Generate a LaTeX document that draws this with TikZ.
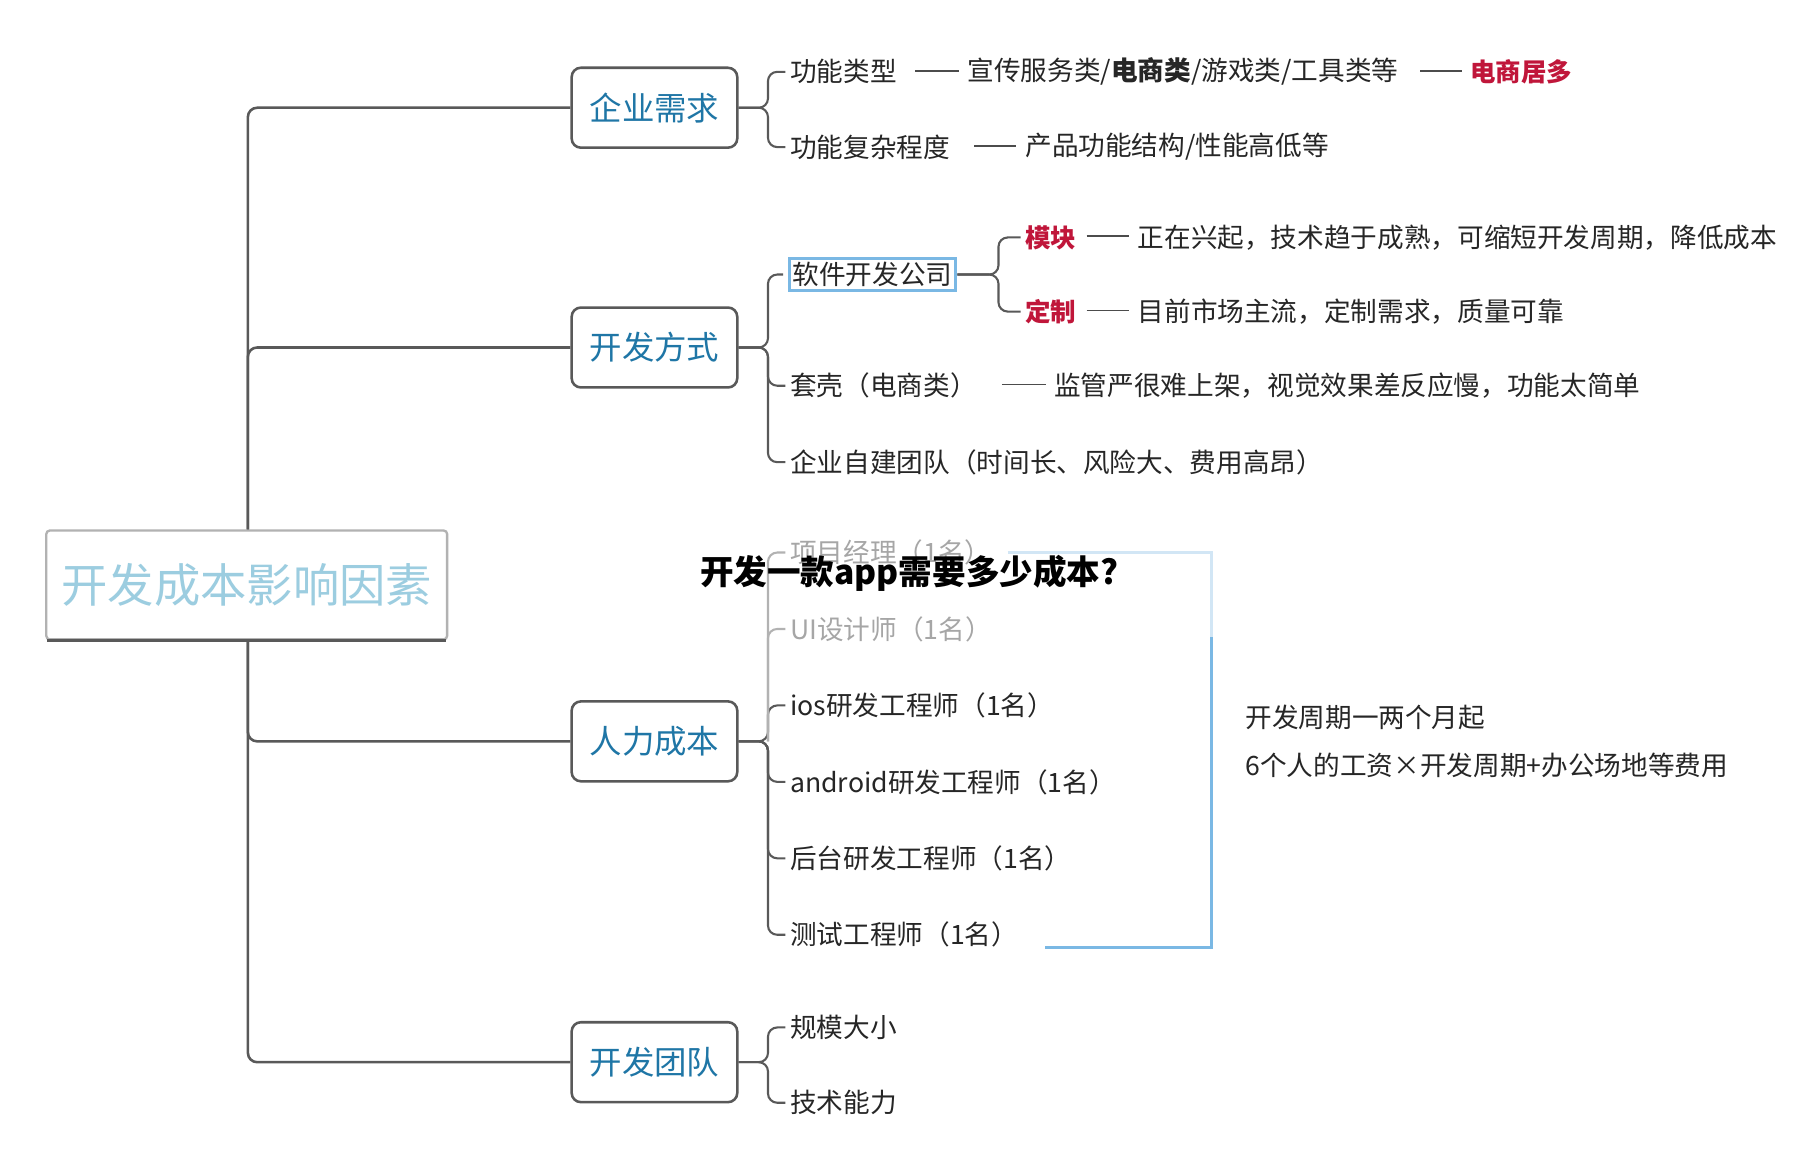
\documentclass[tikz,border=0pt]{standalone}
\usepackage{fontspec}
\setmainfont{Noto Sans CJK SC}
\definecolor{rootc}{HTML}{9CCDE0}
\definecolor{brc}{HTML}{1F76A6}
\definecolor{blb}{HTML}{7AB8E4}
\definecolor{blbl}{HTML}{D2E6F5}
\definecolor{redc}{HTML}{C0163A}
\begin{document}
\begin{tikzpicture}[x=1pt,y=-1pt,
  line/.style={draw=black!65,line width=2.2pt,rounded corners=8pt},
  br/.style={draw=black!65,line width=2.2pt,rounded corners=8pt,fill=white,minimum width=143pt,minimum height=69pt,text=brc,font=\fontsize{28}{30}\selectfont,inner sep=0pt},
  leaf/.style={anchor=west,inner sep=0pt,font=\fontsize{23}{25}\selectfont,text=black!85},
  rd/.style={leaf,text=redc,font=\fontsize{22}{25}\selectfont\bfseries},
  faded/.style={leaf,text=black!35},
  dsh/.style={draw=black!70,line width=1.6pt}]
\useasboundingbox (0,0) rectangle (1560,992);
\fill[white] (0,0) rectangle (1560,992);
% root
\node[draw=black!30,line width=2pt,rounded corners=3pt,minimum width=346pt,minimum height=94pt,text=rootc,font=\fontsize{40}{42}\selectfont,inner sep=0pt] (root) at (213,505) {开发成本影响因素};
\draw[black!65,line width=3pt] ([xshift=2pt]root.south west) -- ([xshift=-2pt]root.south east);
% branches
\node[br] (b1) at (565,93) {企业需求};
\node[br] (b2) at (565,300) {开发方式};
\node[br] (b3) at (565,640) {人力成本};
\node[br] (b4) at (565,917) {开发团队};
\coordinate (t) at (214,93);
\draw[line] (root.north -| t) -- (t) -- (b1.west);
\draw[line] (root.north -| t) |- (b2.west);
\draw[line] (root.south -| t) |- (b3.west);
\draw[line] (root.south -| t) |- (b4.west);
% leaves b1
\node[leaf] (l11) at (682,62) {功能类型};
\node[leaf] (l12) at (682,127) {功能复杂程度};
\node[leaf] (l11b) at (835,62) {宣传服务类/{\bfseries 电商类}/游戏类/工具类等};
\node[rd] (l11c) at (1269,62) {电商居多};
\node[leaf] (l12b) at (885,127) {产品功能结构/性能高低等};
\draw[dsh] (790,61) -- (828,61); \draw[dsh] (1226,61) -- (1262,61);
\draw[dsh] (841,126) -- (877,126);
% leaves b2
\node[leaf,draw=blb,line width=2.5pt,inner sep=3pt] (l21) at (680,237) {软件开发公司};
\node[leaf] (l22) at (682,333) {套壳（电商类）};
\node[leaf] (l23) at (682,399) {企业自建团队（时间长、风险大、费用高昂）};
\node[rd] (m1) at (885,205) {模块};
\node[rd] (m2) at (885,269) {定制};
\node[leaf] (m1b) at (982,205) {正在兴起，技术趋于成熟，可缩短开发周期，降低成本};
\node[leaf] (m2b) at (982,269) {目前市场主流，定制需求，质量可靠};
\node[leaf] (l22b) at (910,333) {监管严很难上架，视觉效果差反应慢，功能太简单};
\draw[dsh] (938,204) -- (975,204); \draw[dsh] (938,268) -- (975,268);
\draw[dsh] (865,332) -- (903,332);
% leaves b3
\node[faded] (l31) at (682,477) {项目经理（1名）};
\node[faded] (l32) at (682,543) {UI设计师（1名）};
\node[leaf] (l33) at (682,609) {ios研发工程师（1名）};
\node[leaf] (l34) at (682,675) {android研发工程师（1名）};
\node[leaf] (l35) at (682,741) {后台研发工程师（1名）};
\node[leaf] (l36) at (682,807) {测试工程师（1名）};
% leaves b4
\node[leaf] (l41) at (682,887) {规模大小};
\node[leaf] (l42) at (682,952) {技术能力};
% brackets
\coordinate (x1) at (663,0); \coordinate (x2) at (862,0);
\foreach \p/\c in {b1/l11,b1/l12,b2/l21,b2/l22,b2/l23,b3/l33,b3/l34,b3/l35,b3/l36,b4/l41,b4/l42}
  \draw[line,line width=1.8pt,shorten >=4pt] (\p.east) -- (\p.east -| x1) |- (\c.west);
\foreach \c in {l31,l32}
  \draw[line,line width=1.8pt,black!30,shorten >=4pt] (b3.east -| x1) |- (\c.west);
\foreach \c in {m1,m2}
  \draw[line,line width=1.8pt,shorten >=4pt] (l21.east) -- (l21.east -| x2) |- (\c.west);
% blue bracket
\coordinate (c1) at (870,477); \coordinate (c2) at (1046,477);
\coordinate (c3) at (1046,818); \coordinate (c4) at (902,818);
\coordinate (c5) at (1046,550);
\draw[blbl,line width=3pt] (c1) -- (c2) -- (c5);
\draw[blb,line width=3pt] (c5) -- (c3) -- (c4);
\node[leaf] (n1) at (1075,619) {开发周期一两个月起};
\node[leaf] (n2) at (1075,661) {6个人的工资×开发周期+办公场地等费用};
% title
\node[inner sep=0pt,font=\fontsize{29}{31}\selectfont\bfseries] (title) at (785,495) {开发一款app需要多少成本?};
\end{tikzpicture}
\end{document}
